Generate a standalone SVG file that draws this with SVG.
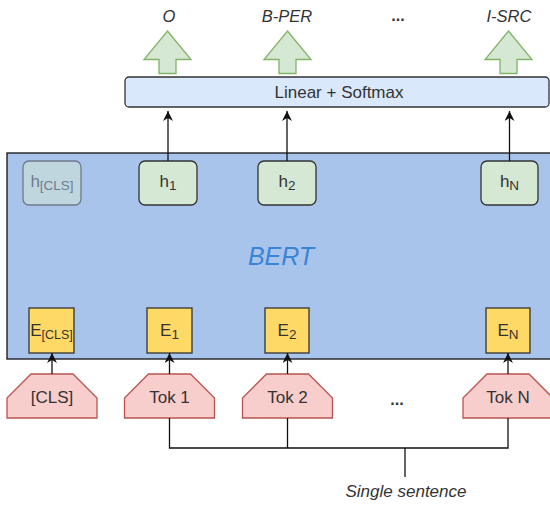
<svg xmlns="http://www.w3.org/2000/svg" width="550" height="505" viewBox="0 0 550 505">
<defs>
<style>
text{font-family:"Liberation Sans",Arial,Helvetica,sans-serif;fill:#333333}
.lbl{font-size:17px;text-anchor:middle}
.out{font-size:16.5px;font-style:italic;text-anchor:middle}
.dots{font-size:16px;font-weight:bold;text-anchor:middle}
.big{font-size:17px}
.sub{font-size:13.5px}
.h{fill:#d5e8d4;stroke:#333333;stroke-width:1.3}
.e{fill:#ffd966;stroke:#333333;stroke-width:1.3}
.tok{fill:#f8cecc;stroke:#b85450;stroke-width:1.3}
.garrow{fill:#d5e8d4;stroke:#82b366;stroke-width:1.3}
.edge{fill:none;stroke:#111111;stroke-width:1.3}
</style>
<marker id="ah" viewBox="0 0 10 10" markerWidth="10" markerHeight="10" refX="10" refY="5" orient="auto" markerUnits="userSpaceOnUse">
<path d="M0,0 L10,5 L0,10 L3,5 z" fill="#111111"/>
</marker>
</defs>

<g id="bert">
<rect x="7" y="153" width="560" height="206" fill="#a9c4eb" stroke="#111111" stroke-width="1.3"/>
<text x="281" y="265" style="font-size:25px;font-style:italic;fill:#3a84d6" text-anchor="middle">BERT</text>
</g>

<g id="linear">
<rect x="125" y="77" width="424" height="30" rx="4" fill="#dae8fc" stroke="#333333" stroke-width="1.3"/>
<text class="lbl" x="339" y="98">Linear + Softmax</text>
</g>

<g id="out-o">
<polygon class="garrow" points="167.5,31 191,59.5 176,59.5 176,73.5 159,73.5 159,59.5 144,59.5"/>
<text class="out" x="169" y="22">O</text>
</g>
<g id="out-bper">
<polygon class="garrow" points="287.5,31 311,59.5 296,59.5 296,73.5 279,73.5 279,59.5 264,59.5"/>
<text class="out" x="287" y="22">B-PER</text>
</g>
<text id="out-dots" class="dots" x="398" y="21">...</text>
<g id="out-isrc">
<polygon class="garrow" points="508.5,31 532,59.5 517,59.5 517,73.5 500,73.5 500,59.5 485,59.5"/>
<text class="out" x="509" y="22">I-SRC</text>
</g>

<g id="h-cls" opacity="0.5">
<rect class="h" x="23" y="161" width="58" height="44" rx="6"/>
<text x="52" y="187" text-anchor="middle"><tspan class="big">h</tspan><tspan class="sub" dy="3">[CLS]</tspan></text>
</g>
<g id="h-1">
<rect class="h" x="139" y="161" width="58" height="44" rx="6"/>
<text x="168" y="187" text-anchor="middle"><tspan class="big">h</tspan><tspan class="sub" dy="3">1</tspan></text>
</g>
<g id="h-2">
<rect class="h" x="258" y="161" width="58" height="44" rx="6"/>
<text x="287" y="187" text-anchor="middle"><tspan class="big">h</tspan><tspan class="sub" dy="3">2</tspan></text>
</g>
<g id="h-n">
<rect class="h" x="481" y="161" width="57" height="44" rx="6"/>
<text x="509.5" y="187" text-anchor="middle"><tspan class="big">h</tspan><tspan class="sub" dy="3">N</tspan></text>
</g>

<g id="e-cls">
<rect class="e" x="29" y="308" width="45" height="45"/>
<text x="51.5" y="336" text-anchor="middle"><tspan class="big">E</tspan><tspan class="sub" dy="3" style="font-size:12.5px">[CLS]</tspan></text>
</g>
<g id="e-1">
<rect class="e" x="147" y="308" width="45" height="45"/>
<text x="169.5" y="336" text-anchor="middle"><tspan class="big">E</tspan><tspan class="sub" dy="3">1</tspan></text>
</g>
<g id="e-2">
<rect class="e" x="265" y="308" width="44" height="45"/>
<text x="287" y="336" text-anchor="middle"><tspan class="big">E</tspan><tspan class="sub" dy="3">2</tspan></text>
</g>
<g id="e-n">
<rect class="e" x="486" y="308" width="44" height="45"/>
<text x="508" y="336" text-anchor="middle"><tspan class="big">E</tspan><tspan class="sub" dy="3">N</tspan></text>
</g>

<g id="tok-cls">
<polygon class="tok" points="31,374 73,374 97,398 97,418 7,418 7,398"/>
<text class="lbl" x="52" y="403">[CLS]</text>
</g>
<g id="tok-1">
<polygon class="tok" points="148.5,374 190.5,374 214.5,398 214.5,418 124.5,418 124.5,398"/>
<text class="lbl" x="169.5" y="403">Tok 1</text>
</g>
<g id="tok-2">
<polygon class="tok" points="266.5,374 308.5,374 332.5,398 332.5,418 242.5,418 242.5,398"/>
<text class="lbl" x="287.5" y="403">Tok 2</text>
</g>
<text id="tok-dots" class="dots" x="397" y="405">...</text>
<g id="tok-n">
<polygon class="tok" points="487,374 529,374 553,398 553,418 463,418 463,398"/>
<text class="lbl" x="508" y="403">Tok N</text>
</g>

<g id="connectors">
<line class="edge" x1="168" y1="161" x2="168" y2="111" marker-end="url(#ah)"/>
<line class="edge" x1="287" y1="161" x2="287" y2="111" marker-end="url(#ah)"/>
<line class="edge" x1="509.5" y1="161" x2="509.5" y2="111" marker-end="url(#ah)"/>
<line class="edge" x1="52" y1="374" x2="52" y2="353" marker-end="url(#ah)"/>
<line class="edge" x1="169.5" y1="374" x2="169.5" y2="353" marker-end="url(#ah)"/>
<line class="edge" x1="287.5" y1="374" x2="287.5" y2="353" marker-end="url(#ah)"/>
<line class="edge" x1="508" y1="374" x2="508" y2="353" marker-end="url(#ah)"/>
<polyline class="edge" points="169.5,418 169.5,448 508,448 508,418"/>
<line class="edge" x1="287.5" y1="418" x2="287.5" y2="448"/>
<line class="edge" x1="405" y1="448" x2="405" y2="477"/>
</g>

<text id="sentence" x="406" y="497" text-anchor="middle" style="font-size:17px;font-style:italic">Single sentence</text>
</svg>
